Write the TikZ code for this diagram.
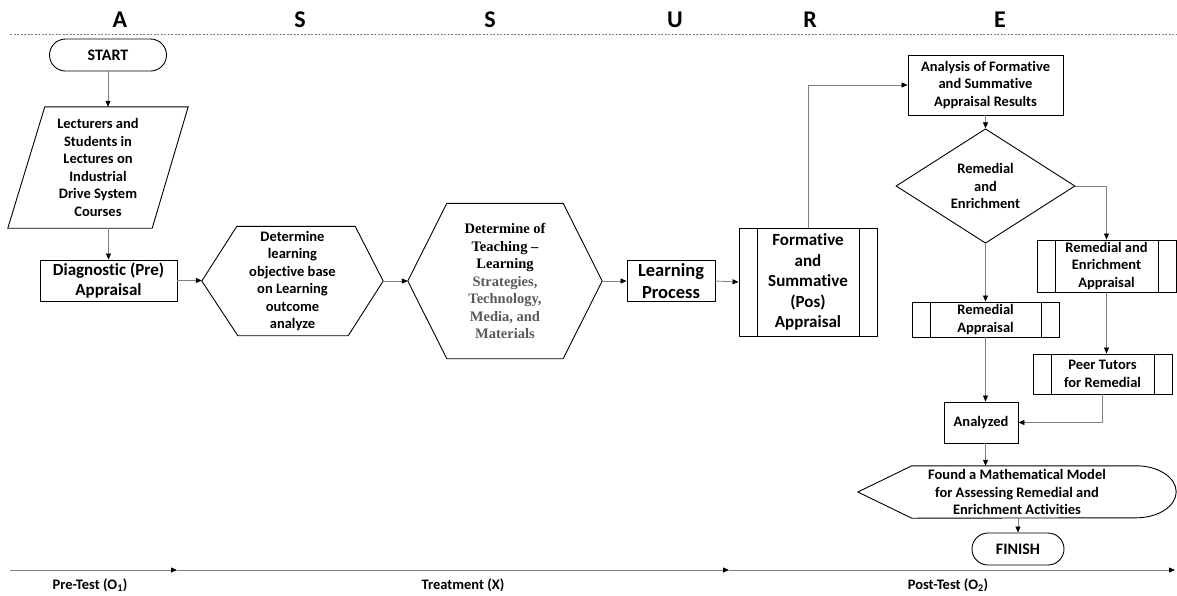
\documentclass[tikz,border=0pt]{standalone}
\usepackage{fontspec}
\setmainfont{Carlito}[Ligatures={NoCommon}]
\newfontfamily\timesfont{Liberation Serif}
\usepackage{tikz}
\usetikzlibrary{arrows.meta,shapes.geometric}
\definecolor{linegray}{HTML}{7F7F7F}
\definecolor{textgray}{HTML}{595959}
\newcommand{\normtext}{\fontsize{14.5}{17.5}\selectfont\bfseries}
\newcommand{\bigtext}{\fontsize{17}{20.5}\selectfont\bfseries}

\tikzset{
  box/.style={draw, line width=0.9pt, align=center, inner sep=1pt, font=\normtext},
  startstop/.style={box, rounded corners=16pt, font=\fontsize{16}{19}\selectfont\bfseries},
  procbox/.style={box, path picture={
      \draw[line width=0.9pt] ([xshift=18pt]path picture bounding box.north west) -- ([xshift=18pt]path picture bounding box.south west);
      \draw[line width=0.9pt] ([xshift=-18pt]path picture bounding box.north east) -- ([xshift=-18pt]path picture bounding box.south east);}},
  plain/.style={align=center, inner sep=0pt, font=\normtext},
  conn/.style={draw=linegray, line width=0.8pt, -{Triangle[length=6pt,width=5pt,color=black]}},
  stage/.style={font=\fontsize{24}{27}\selectfont\bfseries},
}

\begin{document}
\begin{tikzpicture}[x=1pt,y=-1pt]
  \useasboundingbox (0,0) rectangle (1177,595);
  % stages
  \foreach \px/\lt [count=\i] in {120/A, 300/S, 490/S, 675/U, 810/R, 1000/E}
    \node[stage] (stage\i) at (\px,20) {\lt};
  \draw[linegray, dashed, dash pattern=on 2pt off 1.5pt, line width=0.6pt] (10,34) -- (1177,34);

  % left column
  \node[startstop, minimum width=117pt, minimum height=32pt] (start) at (108,55) {START};
  \node[plain, minimum width=180pt, minimum height=121pt] (lect) at (98,167.5)
    {Lecturers and\\Students in\\Lectures on\\Industrial\\Drive System\\Courses};
  \draw[line width=0.9pt] ([xshift=37pt]lect.north west) -- (lect.north east) -- ([xshift=-36pt]lect.south east) -- (lect.south west) -- cycle;
  \node[box, font=\bigtext, minimum width=137pt, minimum height=41pt] (diag) at (108.5,280.5) {Diagnostic (Pre)\\Appraisal};

  % hexagon 1
  \node[plain, minimum width=181pt, minimum height=109pt] (obj) at (292.5,281)
    {Determine\\learning\\objective base\\on Learning\\outcome\\analyze};
  \draw[line width=0.9pt] (obj.west) -- ([xshift=35pt]obj.north west) -- ([xshift=-28pt]obj.north east) -- (obj.east)
    -- ([xshift=-35pt]obj.south east) -- ([xshift=36pt]obj.south west) -- cycle;
  % hexagon 2
  \node[plain, font=\fontsize{14.5}{17.5}\timesfont\bfseries, minimum width=194pt, minimum height=155pt] (strat) at (505,281)
    {Determine of\\Teaching \textendash\\Learning\\\textcolor{textgray}{Strategies,}\\\textcolor{textgray}{Technology,}\\\textcolor{textgray}{Media, and}\\\textcolor{textgray}{Materials}};
  \draw[line width=0.9pt] (strat.west) -- ([xshift=39pt]strat.north west) -- ([xshift=-39pt]strat.north east) -- (strat.east)
    -- ([xshift=-39pt]strat.south east) -- ([xshift=39pt]strat.south west) -- cycle;

  \node[box, font=\fontsize{18.5}{22}\selectfont\bfseries, minimum width=88pt, minimum height=41pt] (proc) at (671,281) {Learning\\Process};
  \node[procbox, font=\bigtext, minimum width=138pt, minimum height=108pt] (form) at (808,282) {Formative\\and\\Summative\\(Pos)\\Appraisal};

  % right column
  \node[box, minimum width=155pt, minimum height=60pt] (anal) at (985.5,85) {Analysis of Formative\\and Summative\\Appraisal Results};
  \node[draw, diamond, line width=0.9pt, align=center, inner sep=0pt, font=\normtext, minimum width=179pt, minimum height=92pt] (rem) at (985.5,186) {Remedial\\and\\Enrichment};
  \node[procbox, minimum width=139pt, minimum height=52pt] (remenr) at (1106.5,266) {Remedial and\\Enrichment\\Appraisal};
  \node[procbox, minimum width=147pt, minimum height=35pt] (remapp) at (985.5,319.5) {Remedial\\Appraisal};
  \node[procbox, minimum width=139pt, minimum height=40pt] (peer) at (1102.5,374) {Peer Tutors\\for Remedial};
  \node[box, minimum width=74pt, minimum height=41pt] (anz) at (981,422.5) {Analyzed};
  \node[plain, minimum width=318pt, minimum height=52pt] (model) at (1017,492)
    {Found a Mathematical Model\\for Assessing Remedial and\\Enrichment Activities};
  \draw[line width=0.9pt] (model.west) -- ([xshift=54pt]model.north west) -- ([xshift=-40pt]model.north east)
    arc[start angle=90, end angle=-90, x radius=40pt, y radius=26pt] -- ([xshift=54pt]model.south west) -- cycle;
  \node[startstop, minimum width=92pt, minimum height=32pt] (finish) at (1018,549) {FINISH};

  % connectors
  \draw[conn] (start.south) -- (start.south |- lect.north);
  \draw[conn] (diag.north |- lect.south) -- (diag.north);
  \draw[conn] (diag.east) -- (diag.east -| obj.west);
  \draw[conn] (obj.east) -- (strat.west);
  \draw[conn] (strat.east) -- (proc.west);
  \draw[conn] (proc.east) -- (form.west);
  \draw[conn] (form.north) |- (anal.west);
  \draw[conn] (anal.south) -- (rem.north);
  \draw[conn] (rem.east) -| (remenr.north);
  \draw[conn] (rem.south) -- (remapp.north);
  \draw[conn] (remenr.south) -- (remenr.south |- peer.north);
  \draw[conn] (remapp.south) -- (remapp.south |- anz.north);
  \draw[conn] (peer.south) |- (anz.east);
  \draw[conn] (remapp.south |- anz.south) -- (remapp.south |- model.north);
  \draw[conn] (finish.north |- model.south) -- (finish.north);

  % time line
  \coordinate (t0) at (10,570);
  \coordinate (t1) at (177,570);
  \coordinate (t2) at (729,570);
  \coordinate (t3) at (1175,570);
  \draw[conn] (t0) -- (t1);
  \draw[conn] (t1) -- (t2);
  \draw[conn] (t2) -- (t3);
  \node[plain] (pre) at (90,585) {Pre-Test (O\textsubscript{1})};
  \node[plain] (treat) at (463,585) {Treatment (X)};
  \node[plain] (post) at (948,585) {Post-Test (O\textsubscript{2})};
\end{tikzpicture}
\end{document}
